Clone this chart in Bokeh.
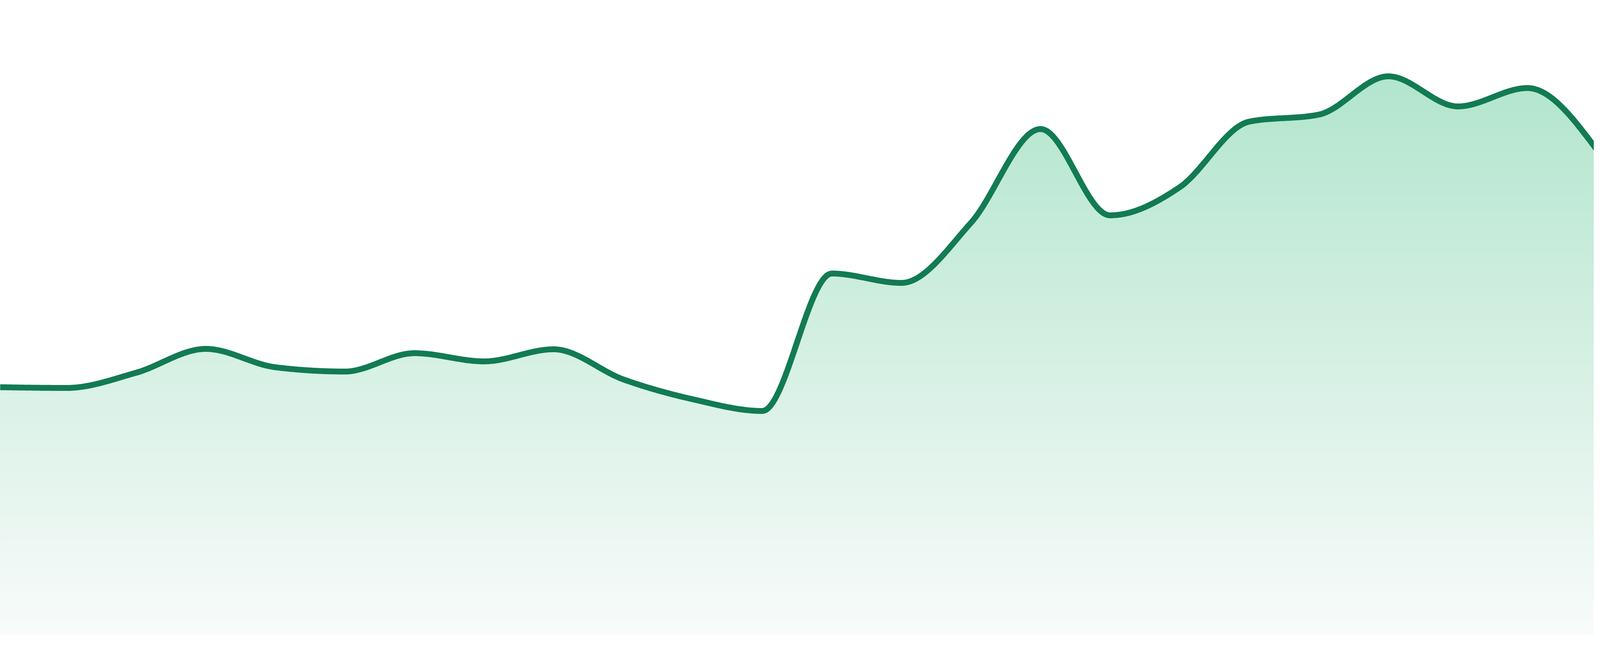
import numpy as np
from bokeh.plotting import figure
from bokeh.models import Range1d, ColumnDataSource
from bokeh.embed import file_html
from bokeh.resources import INLINE

# ---- data ----
periods = list(range(24))
values = [63.3, 63.1, 67.0, 73.1, 68.4, 67.3, 72.0, 69.9, 73.0, 65.3, 60.2, 57.2,
          92.4, 90.0, 105.4, 129.4, 107.3, 114.5, 131.3, 133.1, 142.9, 135.2, 139.9, 124.0]

# ---- style / layout ----
LINE_COLOR = "#127b53"
GRAD_TOP = (168, 226, 199)     # colour at top edge of chart
GRAD_BOTTOM = (248, 251, 250)  # colour at baseline
VIEW_W = 4096                  # usable browser viewport width
W, H = VIEW_W - 16, 1664
PX_PER_STEP = VIEW_W / 23.0
PX_PER_UNIT = 10.0
BASE_PX = 1632.0

x = np.array(periods, dtype=float)
y = np.array(values, dtype=float)


def monotone_tangents(x, y):
    n = len(x)
    h = np.diff(x)
    s = np.diff(y) / h
    t = np.zeros(n)
    for i in range(1, n - 1):
        h0, h1, s0, s1 = h[i - 1], h[i], s[i - 1], s[i]
        p = (s0 * h1 + s1 * h0) / (h0 + h1)
        t[i] = (np.sign(s0) + np.sign(s1)) * min(abs(s0), abs(s1), 0.5 * abs(p))
    t[0] = (3 * s[0] - t[1]) / 2
    t[-1] = (3 * s[-1] - t[-2]) / 2
    return t


def monotone_curve(x, y, per=48):
    t = monotone_tangents(x, y)
    xs, ys = [], []
    for i in range(len(x) - 1):
        h = x[i + 1] - x[i]
        u = np.linspace(0, 1, per, endpoint=(i == len(x) - 2))
        h00 = 2 * u**3 - 3 * u**2 + 1
        h10 = u**3 - 2 * u**2 + u
        h01 = -2 * u**3 + 3 * u**2
        h11 = u**3 - u**2
        xs.append(x[i] + u * h)
        ys.append(h00 * y[i] + h10 * h * t[i] + h01 * y[i + 1] + h11 * h * t[i + 1])
    return np.concatenate(xs), np.concatenate(ys)


cx, cy = monotone_curve(x, y)

x0 = 8 / PX_PER_STEP
x1 = (8 + W) / PX_PER_STEP
ytop = (BASE_PX - 8) / PX_PER_UNIT
ybot = (BASE_PX - 8 - H) / PX_PER_UNIT

p = figure(width=W, height=H, x_range=Range1d(x0, x1), y_range=Range1d(ybot, ytop),
           x_axis_type=None, y_axis_type=None, toolbar_location=None,
           output_backend="svg", min_border=0)
p.outline_line_color = None
p.background_fill_color = "white"
p.border_fill_color = "white"
p.xgrid.visible = False
p.ygrid.visible = False


def grad_color(v):
    px = BASE_PX - v * PX_PER_UNIT
    tt = min(max(px / BASE_PX, 0.0), 1.0)
    c = [int(round(a + (b - a) * tt)) for a, b in zip(GRAD_TOP, GRAD_BOTTOM)]
    return "#%02x%02x%02x" % tuple(c)


# gradient fill: stacked layers from the top level down to the baseline
step = 1.5
levels = np.arange(0, cy.max() + step, step)[::-1]
for k, L in enumerate(levels):
    lower = levels[k + 1] if k + 1 < len(levels) else 0.0
    mid = (L + lower) / 2
    top = np.minimum(cy, L) if k > 0 else cy
    src = ColumnDataSource(dict(x=cx, y1=np.zeros_like(cx), y2=top))
    p.varea(x="x", y1="y1", y2="y2", source=src, fill_color=grad_color(mid), fill_alpha=1.0)

p.line(cx, cy, line_color=LINE_COLOR, line_width=15, line_join="round", line_cap="round")

open("out.html", "w").write(file_html(p, INLINE))
